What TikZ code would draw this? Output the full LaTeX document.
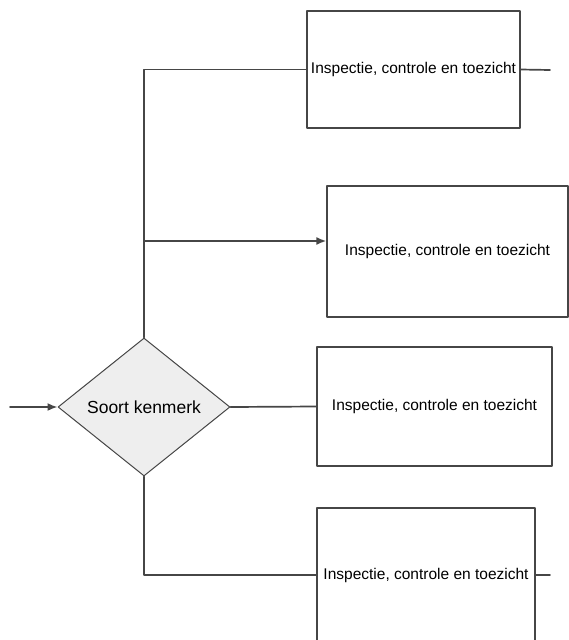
\documentclass[tikz,border=0pt]{standalone}
\usepackage{fontspec}
\setmainfont{Liberation Sans}
\usetikzlibrary{shapes.geometric,arrows.meta}
\definecolor{Dfill}{RGB}{238,238,238}
\definecolor{Lcol}{RGB}{70,70,70}

\begin{document}
\begin{tikzpicture}[x=1pt,y=-1pt,line cap=round,line join=round,
  conn/.style={line width=1.7pt,draw=Lcol},
  tip/.style={-{Latex[length=10pt,width=8pt]}},
  boxnode/.style={draw=Lcol,line width=1.3pt,fill=white,inner sep=0pt,
    font=\fontsize{15.5}{17}\selectfont},
  decnode/.style={diamond,draw=Lcol,line width=1pt,fill=Dfill,inner sep=0pt,
    minimum width=172pt,minimum height=138pt,font=\fontsize{17.5}{19}\selectfont}]
\useasboundingbox (0,0) rectangle (568,640);
\node[decnode] (soort) at (144,407) {Soort kenmerk};
\node[boxnode,minimum width=213pt,minimum height=117pt] (insp1) at (413.5,69.5) {Inspectie, controle en toezicht};
\node[boxnode,minimum width=241pt,minimum height=131pt] (insp2) at (447.5,251.5) {Inspectie, controle en toezicht};
\node[boxnode,minimum width=235pt,minimum height=119pt] (insp3) at (434.5,406.5) {Inspectie, controle en toezicht};
\node[boxnode,minimum width=218pt,minimum height=134pt] (insp4) at (426,575) {Inspectie, controle en toezicht};
\coordinate (start) at (10,407);
\coordinate (split) at (145,241);
\coordinate (out1) at (550,70);
\coordinate (out4) at (550,575);
\draw[conn,tip] (start) -- (soort.west);
\draw[conn] (soort.north) |- (insp1.west);
\draw[conn] (insp1.east) -- (out1);
\draw[conn,tip] (split) -- (split -| insp2.west);
\draw[conn] (soort.east) -- (insp3.west);
\draw[conn] (soort.south) |- (insp4.west);
\draw[conn] (insp4.east) -- (out4);
\end{tikzpicture}
\end{document}
